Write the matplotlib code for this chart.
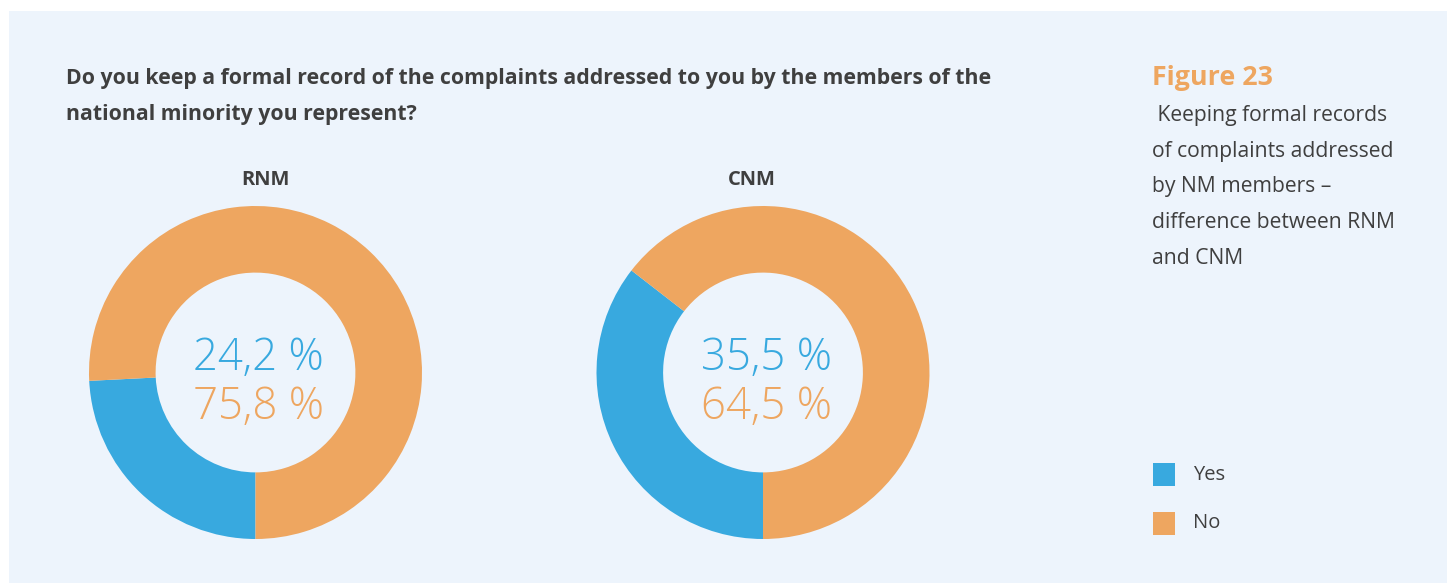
import matplotlib
matplotlib.use("Agg")
import matplotlib.pyplot as plt
from matplotlib.patches import Rectangle

# ---- data ----
groups = ["RNM", "CNM"]
categories = ["Yes", "No"]
yes_values = [24.2, 35.5]
no_values = [75.8, 64.5]
title_lines = ["Do you keep a formal record of the complaints addressed to you by the members of the",
               "national minority you represent?"]
figure_label = "Figure 23"
caption_lines = [" Keeping formal records", "of complaints addressed", "by NM members \u2013",
                 "difference between RNM", "and CNM"]

# ---- style ----
BLUE = "#38A9DF"
ORANGE = "#EEA660"
BG = "#EDF4FC"
DARK = "#3F3F3F"
W, H = 1447, 583

plt.rcParams['font.family'] = ['Open Sans', 'DejaVu Sans']

fig = plt.figure(figsize=(W / 100, H / 100), dpi=100)
fig.patch.set_facecolor("white")

def fx(px):
    return px / W

def fy(py):
    return 1 - py / H

# panel background
fig.patches.append(Rectangle((fx(9), 0), 1 - fx(9), fy(11), transform=fig.transFigure,
                             facecolor=BG, edgecolor="none", zorder=-5))

# title
fig.text(fx(66), fy(84), title_lines[0], fontsize=15.3, fontweight="bold", color=DARK,
         ha="left", va="baseline")
fig.text(fx(66), fy(120), title_lines[1], fontsize=15.3, fontweight="bold", color=DARK,
         ha="left", va="baseline")

# donuts
centers = [(255.5, 372.5), (763, 372.5)]
label_x = [265, 752]
R = 166.5
for i, g in enumerate(groups):
    cx, cy = centers[i]
    ax = fig.add_axes([fx(cx - R), fy(cy + R), 2 * R / W, 2 * R / H])
    ax.set_facecolor("none")
    ax.pie([yes_values[i], no_values[i]], colors=[BLUE, ORANGE], startangle=-90,
           counterclock=False, radius=1, wedgeprops=dict(width=0.4, edgecolor="none"))
    ax.set_xlim(-1, 1)
    ax.set_ylim(-1, 1)
    ax.set_aspect("equal")
    ax.axis("off")
    fmt = lambda v: f"{v:.1f}".replace(".", ",") + " %"
    ax.text(0.02, 0.015, fmt(yes_values[i]), color=BLUE, fontsize=31.5, fontweight="light",
            ha="center", va="baseline")
    ax.text(0.02, -0.28, fmt(no_values[i]), color=ORANGE, fontsize=31.5, fontweight="light",
            ha="center", va="baseline")
    fig.text(fx(label_x[i]), fy(185), g, fontsize=14.5, fontweight="bold", color=DARK,
             ha="center", va="baseline")

# figure label and caption
fig.text(fx(1152), fy(85), figure_label, fontsize=19.3, fontweight="bold", color=ORANGE,
         ha="left", va="baseline")
for k, line in enumerate(caption_lines):
    fig.text(fx(1152), fy(121 + 35.7 * k), line, fontsize=15.2, color=DARK,
             ha="left", va="baseline")

# legend
leg_y = [474.5, 523.5]
leg_colors = [BLUE, ORANGE]
for k, cat in enumerate(categories):
    fig.patches.append(Rectangle((fx(1153), fy(leg_y[k] + 11.5)), 22 / W, 23 / H,
                                 transform=fig.transFigure, facecolor=leg_colors[k],
                                 edgecolor="none"))
    fig.text(fx(1193), fy(leg_y[k]), cat, fontsize=14.5, color=DARK, ha="left", va="center")

fig.savefig("out.png", dpi=100, facecolor=fig.get_facecolor())
